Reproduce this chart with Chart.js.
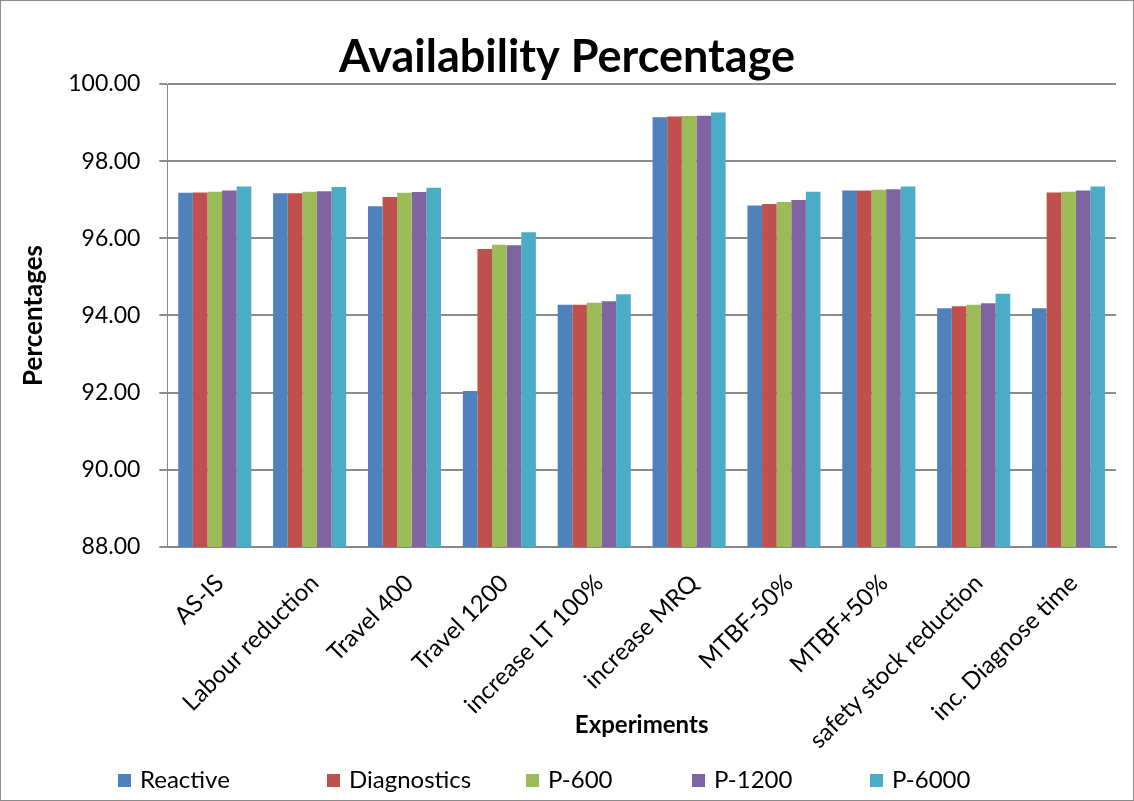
<!DOCTYPE html>
<html>
<head>
<meta charset="utf-8">
<script src="https://cdn.jsdelivr.net/npm/chart.js@4"></script>
<style>
    html, body { margin: 0; padding: 0; background: #fff; }
    #wrap { position: absolute; left: 0; top: 0; width: 1132px; height: 799px; border: 1px solid #8c8c8c; }
    #chart-legend { position: absolute; left: 0; top: 762px; width: 1132px; height: 32px; font-family: Lato, "Open Sans", sans-serif; font-size: 24px; color: #000; }
    .legend-item { position: absolute; top: 0; white-space: nowrap; line-height: 32px; }
    .legend-color-box { display: inline-block; width: 13px; height: 13px; margin-right: 9px; vertical-align: 1px; }
</style>
</head>
<body>
<div id="wrap">
    <canvas id="myChart" width="1132" height="799"></canvas>
    <div id="chart-legend"></div>
</div>
<script>
// Chart data
const experiments = ['AS-IS', 'Labour reduction', 'Travel 400', 'Travel 1200', 'increase LT 100%',
    'increase MRQ', 'MTBF-50%', 'MTBF+50%', 'safety stock reduction', 'inc. Diagnose time'];
const reactive    = [97.18, 97.17, 96.83, 92.04, 94.28, 99.14, 96.85, 97.24, 94.19, 94.19];
const diagnostics = [97.19, 97.17, 97.07, 95.72, 94.28, 99.16, 96.89, 97.24, 94.24, 97.19];
const p600        = [97.21, 97.21, 97.18, 95.83, 94.33, 99.17, 96.94, 97.26, 94.28, 97.21];
const p1200       = [97.24, 97.22, 97.20, 95.82, 94.37, 99.18, 96.99, 97.27, 94.32, 97.24];
const p6000       = [97.34, 97.33, 97.31, 96.16, 94.55, 99.26, 97.21, 97.34, 94.56, 97.34];
const yTicks = [88, 90, 92, 94, 96, 98, 100];

const fontFamily = 'Lato, "Open Sans", sans-serif';
const colors = ['#4f81bd', '#c0504d', '#9bbb59', '#8064a2', '#4bacc6'];
const seriesNames = ['Reactive', 'Diagnostics', 'P-600', 'P-1200', 'P-6000'];
const seriesData = [reactive, diagnostics, p600, p1200, p6000];
const legendLeft = [117, 326, 525, 691, 869]; // Excel spaces the legend items unevenly

const ctx = document.getElementById('myChart').getContext('2d');

let myChart = new Chart(ctx, {
    type: 'bar',
    data: {
        labels: experiments,
        datasets: seriesNames.map((name, i) => ({
            label: name,
            data: seriesData[i],
            backgroundColor: colors[i],
            borderWidth: 0,
            categoryPercentage: 0.77,
            barPercentage: 1.0
        }))
    },
    options: {
        responsive: false,
        animation: false,
        layout: {
            padding: { left: 17, right: 17, top: 0, bottom: 28 }
        },
        plugins: {
            title: {
                display: true,
                text: 'Availability Percentage',
                color: '#000',
                font: { family: fontFamily, size: 45, weight: 'bold' },
                padding: { top: 29, bottom: 0 }
            },
            legend: { display: false },
            tooltip: { enabled: false }
        },
        scales: {
            x: {
                offset: true,
                grid: { display: false },
                border: { color: '#888', width: 2 },
                ticks: {
                    color: '#000',
                    font: { family: fontFamily, size: 24 },
                    minRotation: 45,
                    maxRotation: 45,
                    padding: 14,
                    labelOffset: 5
                },
                title: {
                    display: true,
                    text: 'Experiments',
                    color: '#000',
                    font: { family: fontFamily, size: 24, weight: 'bold' },
                    // title sits inside the label area like in Excel
                    padding: { top: -57, bottom: 32 }
                }
            },
            y: {
                min: 88,
                max: 100,
                afterBuildTicks: (axis) => {
                    axis.ticks = yTicks.map(v => ({ value: v }));
                },
                grid: {
                    color: '#8c8c8c',
                    lineWidth: 2,
                    tickLength: 8
                },
                border: { color: '#888', width: 1 },
                ticks: {
                    color: '#000',
                    font: { family: fontFamily, size: 23 },
                    padding: 19,
                    callback: (value) => Number(value).toFixed(2)
                },
                title: {
                    display: true,
                    text: 'Percentages',
                    color: '#000',
                    font: { family: fontFamily, size: 26, weight: 'bold' },
                    padding: { top: 0, bottom: 0 }
                }
            }
        }
    }
});

// HTML legend along the bottom
const legendContainer = document.getElementById('chart-legend');
legendContainer.innerHTML = seriesNames.map((name, i) => `
    <div class="legend-item" style="left:${legendLeft[i]}px;">
        <span class="legend-color-box" style="background-color:${colors[i]};"></span>${name}
    </div>
`).join('');
</script>
</body>
</html>
